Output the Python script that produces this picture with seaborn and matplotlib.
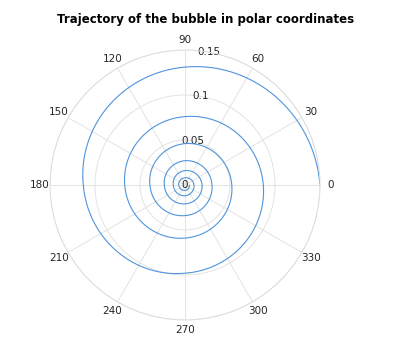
import numpy as np
import matplotlib
matplotlib.use("Agg")
import matplotlib.pyplot as plt
import seaborn as sns
import pandas as pd

# Spiral at quarter-turn steps (degrees, radius)
theta_deg = [0, 90, 180, 270, 360, 450, 540, 630, 720, 810, 900, 990, 1080,
             1170, 1260, 1350, 1440, 1530, 1620, 1710, 1800, 1890, 1980, 2070, 2160]
radius = [0.150, 0.131, 0.113, 0.098, 0.087, 0.076, 0.067, 0.059, 0.052, 0.046,
          0.039, 0.034, 0.030, 0.027, 0.023, 0.021, 0.019, 0.016, 0.013, 0.012,
          0.010, 0.008, 0.007, 0.006, 0.005]
r_ticks = [0, 0.05, 0.1, 0.15]
r_tick_labels = ["0", "0.05", "0.1", "0.15"]
theta_ticks = [0, 30, 60, 90, 120, 150, 180, 210, 240, 270, 300, 330]
title = "Trajectory of the bubble in polar coordinates"

sns.set_style("white")
plt.rcParams["font.family"] = ["DejaVu Sans"]

df = pd.DataFrame({"theta": np.deg2rad(theta_deg), "r": radius})

fig = plt.figure(figsize=(3.95, 3.52), dpi=100)
ax = fig.add_axes([50 / 395, 32 / 352, 270 / 395, 270 / 352], projection="polar")
sns.lineplot(data=df, x="theta", y="r", sort=False, ax=ax, color="#4f94dc", linewidth=0.8)
# let the polar transform draw each segment as a curved spiral piece
for ln in ax.lines:
    ln.get_path()._interpolation_steps = 40
ax.set_xlabel("")
ax.set_ylabel("")
ax.set_ylim(0, 0.15)
ax.set_yticks(r_ticks)
ax.set_yticklabels(r_tick_labels)
ax.set_rlabel_position(80)
for lab in ax.get_yticklabels():
    lab.set_ha("center")
    lab.set_va("center")
ax.set_xticks(np.deg2rad(theta_ticks))
ax.set_xticklabels([str(t) for t in theta_ticks])
ax.tick_params(axis="x", pad=-3, labelsize=7.5, colors="#262626")
ax.tick_params(axis="y", labelsize=7.5, colors="#262626")
ax.grid(True, color="#e3e3e3", linewidth=0.7)
ax.spines["polar"].set_color("#dcdcdc")
ax.spines["polar"].set_linewidth(0.7)

fig.text(206 / 395, 1 - 20 / 352, title, ha="center", va="center",
         fontsize=8.5, fontweight="bold", color="black")

fig.savefig("out.png", dpi=100, facecolor="white")
